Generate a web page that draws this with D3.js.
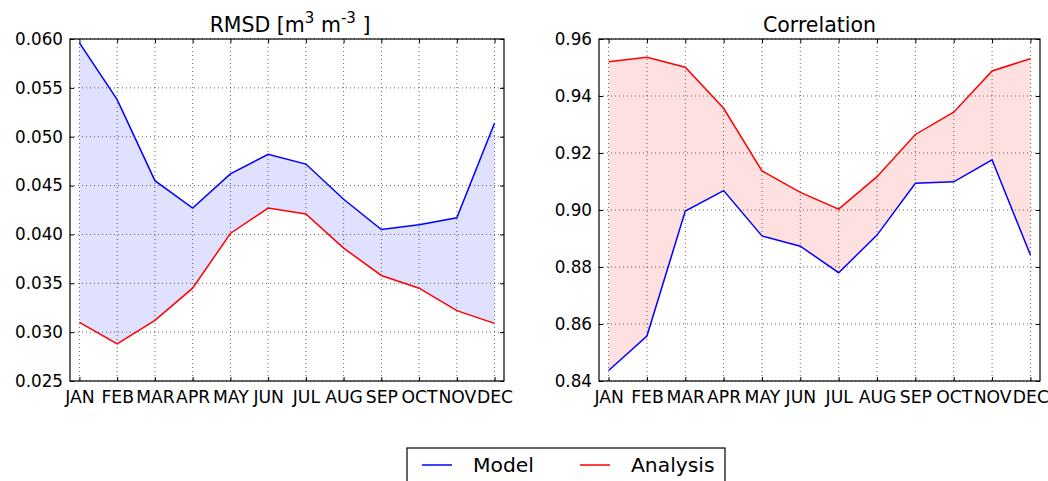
<!DOCTYPE html>
<html><head><meta charset="utf-8">
<script src="https://cdn.jsdelivr.net/npm/d3@7"></script>
<style>
html,body{margin:0;padding:0;background:#fff;}
svg{display:block;font-family:"DejaVu Sans",sans-serif;}
</style></head>
<body><svg id="chart" width="1048" height="481"></svg>
<script>
const months = ["JAN","FEB","MAR","APR","MAY","JUN","JUL","AUG","SEP","OCT","NOV","DEC"];
const rmsdModel    = [0.0596,0.0538,0.0455,0.0427,0.0462,0.0482,0.0472,0.0436,0.0405,0.0410,0.0417,0.0514];
const rmsdAnalysis = [0.0310,0.0288,0.0312,0.0345,0.0401,0.0427,0.0421,0.0386,0.0358,0.0345,0.0322,0.0309];
const corrModel    = [0.8437,0.8558,0.8996,0.9068,0.8909,0.8873,0.8780,0.8912,0.9094,0.9099,0.9176,0.8842];
const corrAnalysis = [0.9520,0.9536,0.9501,0.9357,0.9137,0.9062,0.9003,0.9117,0.9265,0.9343,0.9488,0.9531];
const rmsdTicks = [0.025,0.030,0.035,0.040,0.045,0.050,0.055,0.060];
const corrTicks = [0.84,0.86,0.88,0.90,0.92,0.94,0.96];

const svg = d3.select("#chart");

function panel(opt){
  const g = svg.append("g");
  const x = d3.scaleLinear().domain([-0.25, 11.25]).range([opt.x0, opt.x1]);
  const y = d3.scaleLinear().domain(opt.ydom).range([opt.y1, opt.y0]);
  const idx = d3.range(months.length);
  const area = d3.area().x(i => x(i)).y0(i => y(opt.a[i])).y1(i => y(opt.b[i]));
  g.append("path").attr("d", area(idx)).attr("fill", opt.fill).attr("fill-opacity", 0.12).attr("stroke","none");
  g.selectAll(".vg").data(idx).join("line")
    .attr("x1", i => x(i)).attr("x2", i => x(i)).attr("y1", opt.y0).attr("y2", opt.y1)
    .attr("stroke","#000").attr("stroke-width",0.6).attr("stroke-dasharray","1,3");
  g.selectAll(".hg").data(opt.ticks).join("line")
    .attr("x1", opt.x0).attr("x2", opt.x1).attr("y1", d => y(d)).attr("y2", d => y(d))
    .attr("stroke","#000").attr("stroke-width",0.6).attr("stroke-dasharray","1,3");
  const line = arr => d3.line().x(i => x(i)).y(i => y(arr[i]))(idx);
  g.append("path").attr("d", line(opt.a)).attr("fill","none").attr("stroke","#0000ff").attr("stroke-width",1.5);
  g.append("path").attr("d", line(opt.b)).attr("fill","none").attr("stroke","#ff0000").attr("stroke-width",1.5);
  const ax = d3.axisBottom(x).tickValues(idx).tickFormat(i => months[i]).tickSizeInner(-4).tickSizeOuter(0).tickPadding(10);
  const axg = g.append("g").attr("transform",`translate(0,${opt.y1})`).call(ax);
  const axt = g.append("g").attr("transform",`translate(0,${opt.y0})`).call(d3.axisTop(x).tickValues(idx).tickFormat("").tickSizeInner(-4).tickSizeOuter(0));
  const ay = d3.axisLeft(y).tickValues(opt.ticks).tickFormat(d3.format(opt.fmt)).tickSizeInner(-4).tickSizeOuter(0).tickPadding(7);
  const ayg = g.append("g").attr("transform",`translate(${opt.x0},0)`).call(ay);
  const ayr = g.append("g").attr("transform",`translate(${opt.x1},0)`).call(d3.axisRight(y).tickValues(opt.ticks).tickFormat("").tickSizeInner(-4).tickSizeOuter(0));
  [axg,axt,ayg,ayr].forEach(a => { a.select(".domain").remove(); a.selectAll("line").attr("stroke","#000"); });
  axg.selectAll("text").attr("font-size","17.2px").attr("font-family","DejaVu Sans").attr("fill","#000");
  ayg.selectAll("text").attr("font-size","16.8px").attr("font-family","DejaVu Sans").attr("fill","#000");
  g.append("rect").attr("x",opt.x0).attr("y",opt.y0).attr("width",opt.x1-opt.x0).attr("height",opt.y1-opt.y0)
    .attr("fill","none").attr("stroke","#000").attr("stroke-width",1.2);
  const t = g.append("text").attr("x",(opt.x0+opt.x1)/2 + opt.tdx).attr("y",32).attr("text-anchor","middle")
    .attr("font-size","20.5px").attr("fill","#000");
  opt.title(t);
}

panel({x0:70, x1:504, y0:39, y1:381, ydom:[0.025,0.060], ticks:rmsdTicks, fmt:".3f",
  a:rmsdModel, b:rmsdAnalysis, fill:"#0000ff", tdx:3,
  title: t => {
    t.append("tspan").text("RMSD [m");
    t.append("tspan").attr("dy",-9).attr("font-size","15px").text("3");
    t.append("tspan").attr("dy",9).text(" m");
    t.append("tspan").attr("dy",-9).attr("font-size","15px").text("-3");
    t.append("tspan").attr("dy",9).text(" ]");
  }});
panel({x0:599, x1:1040, y0:39, y1:381, ydom:[0.84,0.96], ticks:corrTicks, fmt:".2f",
  a:corrModel, b:corrAnalysis, fill:"#ff0000", tdx:0,
  title: t => t.text("Correlation")});

const lg = svg.append("g");
lg.append("rect").attr("x",407).attr("y",448).attr("width",318).attr("height",50)
  .attr("fill","#fff").attr("stroke","#000").attr("stroke-width",1.2);
const legendItems = [{name:"Model", color:"#0000ff", x:422},{name:"Analysis", color:"#ff0000", x:580}];
legendItems.forEach(d => {
  lg.append("line").attr("x1",d.x).attr("x2",d.x+30).attr("y1",465).attr("y2",465).attr("stroke",d.color).attr("stroke-width",1.5);
  lg.append("text").attr("x",d.x+51).attr("y",472).attr("font-size","20.3px").attr("fill","#000").text(d.name);
});
</script></body></html>
